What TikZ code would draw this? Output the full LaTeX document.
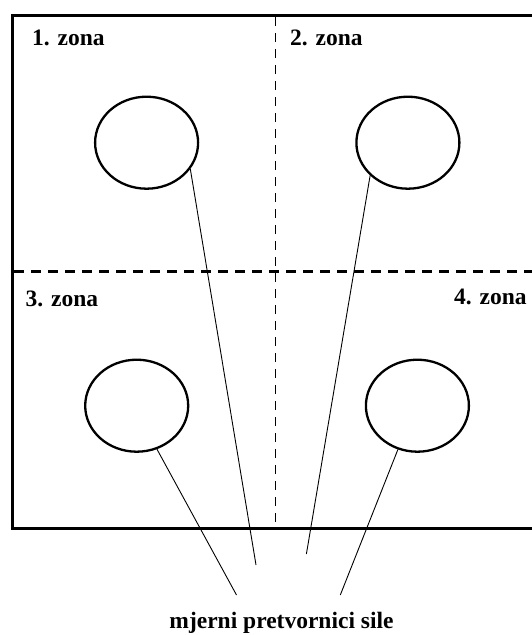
\documentclass[tikz,border=0pt]{standalone}
\usepackage{fontspec}
\setmainfont{Liberation Serif}
\usetikzlibrary{shapes.geometric}
\tikzset{
  zonelabel/.style={anchor=base west, inner sep=0pt, font=\fontsize{23.5}{28}\selectfont\bfseries},
  sensor/.style={ellipse, draw, line width=2.3pt, minimum width=103pt, minimum height=92pt, inner sep=0pt},
  leader/.style={draw, line width=0.9pt},
  frame/.style={draw, line width=3pt},
  vdash/.style={draw, line width=1.1pt, dash pattern=on 9pt off 7pt},
  hdash/.style={draw, line width=3pt, dash pattern=on 10pt off 7pt}
}
\begin{document}
\begin{tikzpicture}[x=1pt, y=-1pt]
\useasboundingbox (0,0) rectangle (532,635);
% frame
\draw[frame] (532,15) -- (12,15) -- (12,528) -- (532,528);
% dividers
\draw[vdash] (275.5,17) -- (275.5,522);
\draw[hdash] (14,271.7) -- (532,271.7);
% labels
\node[zonelabel] (z1) at (32,45.5) {1. zona};
\node[zonelabel] (z2) at (290,45.5) {2. zona};
\node[zonelabel] (z3) at (25.5,306.5) {3. zona};
\node[zonelabel] (z4) at (454,304.3) {4. zona};
% sensors
\node[sensor] (e1) at (146.6,142.7) {};
\node[sensor] (e2) at (407.9,142.7) {};
\node[sensor] (e3) at (136.7,405.7) {};
\node[sensor] (e4) at (417.4,405.7) {};
% free ends
\coordinate (c1) at (256,565);
\coordinate (c2) at (306.4,554);
\coordinate (c3) at (236.5,595);
\coordinate (c4) at (340.3,595);
\draw[leader] (e1.-31) -- (c1);
\draw[leader] (e2.221) -- (c2);
\draw[leader] (e3.-65) -- (c3);
\draw[leader] (e4.-114) -- (c4);
% caption
\node[anchor=base, inner sep=0pt, font=\fontsize{23.5}{28}\selectfont\bfseries] (cap) at (281.5,628.5) {mjerni pretvornici sile};
\end{tikzpicture}
\end{document}
